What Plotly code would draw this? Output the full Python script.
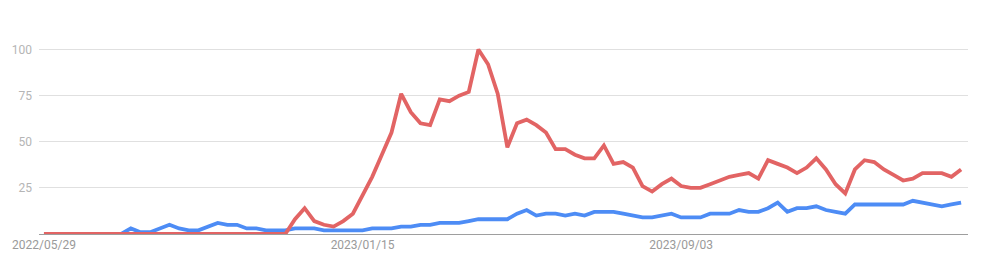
import pandas as pd
import plotly.graph_objects as go

# Weekly dates (categories)
dates = pd.date_range("2022-05-29", periods=96, freq="7D")

# Series values
blue_values = [
    0, 0, 0, 0, 0, 0, 0, 0, 0, 3,
    1, 1, 3, 5, 3, 2, 2, 4, 6, 5,
    5, 3, 3, 2, 2, 2, 3, 3, 3, 2,
    2, 2, 2, 2, 3, 3, 3, 4, 4, 5,
    5, 6, 6, 6, 7, 8, 8, 8, 8, 11,
    13, 10, 11, 11, 10, 11, 10, 12, 12, 12,
    11, 10, 9, 9, 10, 11, 9, 9, 9, 11,
    11, 11, 13, 12, 12, 14, 17, 12, 14, 14,
    15, 13, 12, 11, 16, 16, 16, 16, 16, 16,
    18, 17, 16, 15, 16, 17,
]
red_values = [
    0, 0, 0, 0, 0, 0, 0, 0, 0, 0,
    0, 0, 0, 0, 0, 0, 0, 0, 0, 0,
    0, 0, 0, 0, 0, 0, 8, 14, 7, 5,
    4, 7, 11, 21, 31, 43, 55, 76, 66, 60,
    59, 73, 72, 75, 77, 100, 92, 76, 47, 60,
    62, 59, 55, 46, 46, 43, 41, 41, 48, 38,
    39, 36, 26, 23, 27, 30, 26, 25, 25, 27,
    29, 31, 32, 33, 30, 40, 38, 36, 33, 36,
    41, 35, 27, 22, 35, 40, 39, 35, 32, 29,
    30, 33, 33, 33, 31, 35,
]

# Tick labels
x_tick_dates = ["2022-05-29", "2023-01-15", "2023-09-03"]
x_tick_labels = ["2022/05/29", "2023/01/15", "2023/09/03"]
y_tick_vals = [25, 50, 75, 100]
y_tick_labels = ["25", "50", "75", "100"]

BLUE = "#4d8cf5"
RED = "#e26464"

fig = go.Figure()
fig.add_trace(go.Scatter(x=dates, y=blue_values, mode="lines",
                         line=dict(color=BLUE, width=3.8), hoverinfo="x+y"))
fig.add_trace(go.Scatter(x=dates, y=red_values, mode="lines",
                         line=dict(color=RED, width=3.8), hoverinfo="x+y"))

x0 = dates[0] - pd.Timedelta(days=3.6)
x1 = dates[-1] + pd.Timedelta(days=5.0)

fig.update_layout(
    width=990, height=276,
    margin=dict(l=37, r=22, t=30, b=42),
    paper_bgcolor="white", plot_bgcolor="white",
    showlegend=False,
    font=dict(family="Roboto, Arial, sans-serif", size=12),
    xaxis=dict(
        range=[x0, x1],
        tickvals=pd.to_datetime(x_tick_dates),
        ticktext=x_tick_labels,
        showgrid=False, zeroline=False,
        showline=True, linecolor="#9e9e9e", linewidth=1,
        layer="below traces",
        ticks="", tickfont=dict(color="#9a9a9a", size=12),
    ),
    yaxis=dict(
        range=[0, 110.57],
        tickvals=y_tick_vals, ticktext=y_tick_labels,
        showgrid=True, gridcolor="#e0e0e0", gridwidth=1,
        zeroline=False, showline=False,
        ticks="", ticklabelstandoff=6,
        tickfont=dict(color="#b5b5b5", size=12),
    ),
)

fig.write_html("out.html")
